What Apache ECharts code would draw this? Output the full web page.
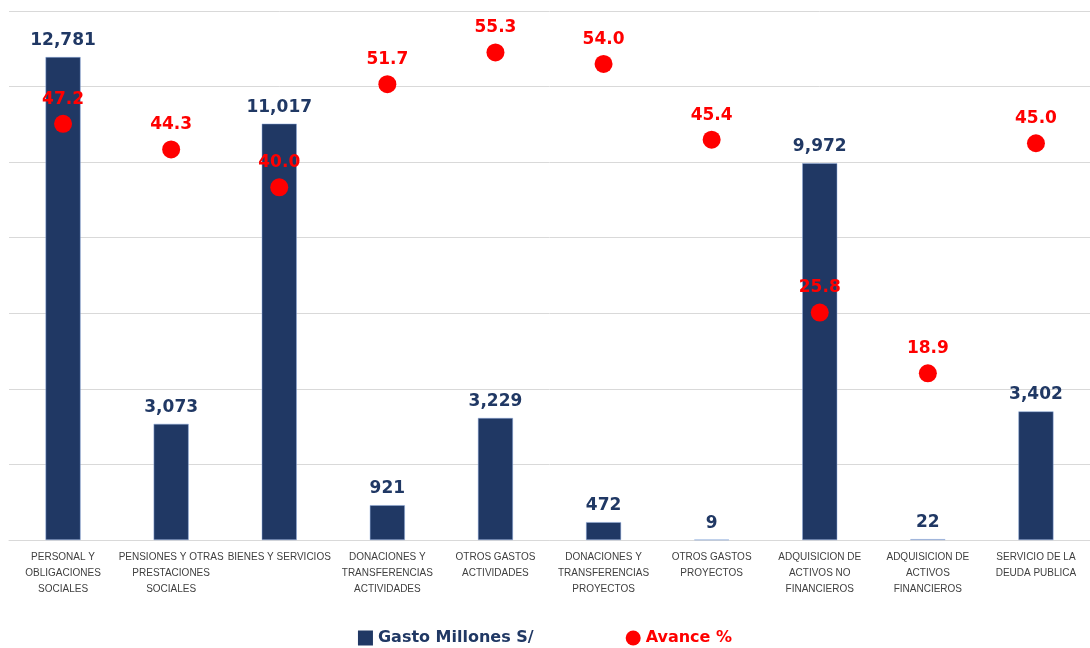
<!DOCTYPE html>
<html>
<head>
<meta charset="utf-8">
<script src="https://cdn.jsdelivr.net/npm/echarts@6/dist/echarts.min.js"></script>
<style>
  html, body { margin: 0; padding: 0; background: #fff; }
  #chart { width: 1090px; height: 648px; }
</style>
</head>
<body>
<div id="chart"></div>
<script>
// categorias (con saltos de linea como en el original)
var categorias = [
    "PERSONAL Y\nOBLIGACIONES\nSOCIALES",
    "PENSIONES Y OTRAS\nPRESTACIONES\nSOCIALES",
    "BIENES Y SERVICIOS",
    "DONACIONES Y\nTRANSFERENCIAS\nACTIVIDADES",
    "OTROS GASTOS\nACTIVIDADES",
    "DONACIONES Y\nTRANSFERENCIAS\nPROYECTOS",
    "OTROS GASTOS\nPROYECTOS",
    "ADQUISICION DE\nACTIVOS NO\nFINANCIEROS",
    "ADQUISICION DE\nACTIVOS\nFINANCIEROS",
    "SERVICIO DE LA\nDEUDA PUBLICA"
];
// gasto en millones
var gasto = [12781, 3073, 11017, 921, 3229, 472, 9, 9972, 22, 3402];
// avance en %
var avance = [47.2, 44.3, 40.0, 51.7, 55.3, 54.0, 45.4, 25.8, 18.9, 45.0];

var azul = "#203864";
var rojo = "#FF0000";

var myChart = echarts.init(document.getElementById("chart"));

var option = {
    animation: false,
    grid: {
        left: 9,
        right: -5,
        top: 11,
        bottom: 108
    },
    legend: {
        bottom: -3,
        left: "center",
        itemGap: 92,
        data: [
            { name: "Gasto Millones S/", icon: "rect", itemStyle: { color: azul, borderWidth: 0 }, textStyle: { color: azul } },
            { name: "Avance %", icon: "circle", itemStyle: { color: rojo, opacity: 1 }, textStyle: { color: rojo } }
        ],
        itemWidth: 15,
        itemHeight: 15,
        textStyle: {
            fontFamily: "DejaVu Sans",
            fontWeight: "bold",
            fontSize: 16
        }
    },
    xAxis: {
        type: "category",
        data: categorias,
        axisLine: { lineStyle: { color: "#d9d9d9" } },
        axisTick: { show: false },
        axisLabel: {
            interval: 0,
            color: "#404040",
            fontFamily: "Liberation Sans",
            fontSize: 10,
            lineHeight: 16,
            margin: 9
        }
    },
    yAxis: [
        {
            type: "value",
            min: 0,
            max: 14000,
            interval: 2000,
            axisLabel: { show: false },
            axisLine: { show: false },
            axisTick: { show: false },
            splitLine: { lineStyle: { color: "#d9d9d9" } }
        },
        {
            type: "value",
            min: 0,
            max: 60,
            show: false,
            splitLine: { show: false }
        }
    ],
    series: [
        {
            name: "Gasto Millones S/",
            type: "bar",
            data: gasto,
            barWidth: 35,
            itemStyle: { color: azul, borderColor: "#8faadc", borderWidth: 0.5 },
            label: {
                show: true,
                position: "top",
                distance: 8,
                color: azul,
                fontFamily: "DejaVu Sans",
                fontWeight: "bold",
                fontSize: 17,
                formatter: function (p) { return p.value.toLocaleString("en-US"); }
            }
        },
        {
            name: "Avance %",
            type: "scatter",
            yAxisIndex: 1,
            data: avance,
            symbolSize: 18,
            itemStyle: { color: rojo, opacity: 1 },
            z: 5,
            label: {
                show: true,
                position: "top",
                distance: 7,
                color: rojo,
                fontFamily: "DejaVu Sans",
                fontWeight: "bold",
                fontSize: 17,
                formatter: function (p) { return p.value.toFixed(1); }
            }
        }
    ]
};

myChart.setOption(option);
</script>
</body>
</html>
